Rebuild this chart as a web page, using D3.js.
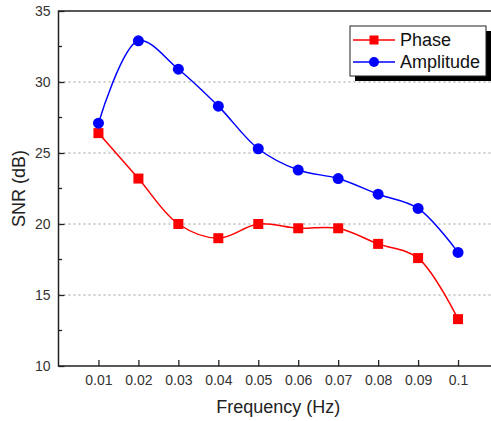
<!DOCTYPE html>
<html>
<head>
<meta charset="utf-8">
<script src="https://cdn.jsdelivr.net/npm/d3@7"></script>
<style>
  body { margin: 0; background: #fff; }
  text { font-family: "Liberation Sans", Arial, sans-serif; }
</style>
</head>
<body>
<div class="container"></div>
<script>
const wd = 491
const ht = 421

// data
const freq = [0.01, 0.02, 0.03, 0.04, 0.05, 0.06, 0.07, 0.08, 0.09, 0.1]
const freqLabels = ["0.01", "0.02", "0.03", "0.04", "0.05", "0.06", "0.07", "0.08", "0.09", "0.1"]
const phase = [26.4, 23.2, 20.0, 19.0, 20.0, 19.7, 19.7, 18.6, 17.6, 13.3]
const amplitude = [27.1, 32.9, 30.9, 28.3, 25.3, 23.8, 23.2, 22.1, 21.1, 18.0]
const yTicks = [10, 15, 20, 25, 30, 35]
const gridTicks = [15, 20, 25, 30]
const minorTicks = [12.5, 17.5, 22.5, 27.5, 32.5]

const pLeft = 58.5, pTop = 11, pBottom = 366, pRight = 498

const svg = d3.select(".container").append("svg")
  .attr("width", wd)
  .attr("height", ht)

const x = d3.scaleLinear().domain([0, 0.11]).range([pLeft, pRight])
const y = d3.scaleLinear().domain([10, 35]).range([pBottom, pTop])

// dotted grid
svg.append("g").selectAll("line")
  .data(gridTicks)
  .enter().append("line")
  .attr("x1", pLeft).attr("x2", pRight)
  .attr("y1", d => y(d)).attr("y2", d => y(d))
  .style("stroke", "#999")
  .style("stroke-width", 1)
  .style("stroke-dasharray", "2,3")

// frame
svg.append("rect")
  .attr("x", pLeft).attr("y", pTop)
  .attr("width", pRight - pLeft).attr("height", pBottom - pTop)
  .attr("fill", "none")
  .style("stroke", "#222")
  .style("stroke-width", 1.5)

// x axis, ticks inside
const xAxis = d3.axisBottom(x)
  .tickValues(freq)
  .tickFormat((d, i) => freqLabels[i])
  .tickSize(-6)
  .tickPadding(9)
const gx = svg.append("g").attr("transform", "translate(0," + pBottom + ")").call(xAxis)
gx.select(".domain").remove()
gx.selectAll("line").style("stroke", "#222").style("stroke-width", 1.3)
gx.selectAll("text").style("font-size", "14px").style("fill", "#333")
  .style("font-family", "Liberation Sans, Arial, sans-serif")

// y axis, ticks inside
const yAxis = d3.axisLeft(y)
  .tickValues(yTicks)
  .tickSize(-6)
  .tickPadding(8)
const gy = svg.append("g").attr("transform", "translate(" + pLeft + ",0)").call(yAxis)
gy.select(".domain").remove()
gy.selectAll("line").style("stroke", "#222").style("stroke-width", 1.3)
gy.selectAll("text").style("font-size", "14px").style("fill", "#333")
  .style("font-family", "Liberation Sans, Arial, sans-serif")

svg.append("g").selectAll("line")
  .data(minorTicks)
  .enter().append("line")
  .attr("x1", pLeft).attr("x2", pLeft + 3.5)
  .attr("y1", d => y(d)).attr("y2", d => y(d))
  .style("stroke", "#222")
  .style("stroke-width", 1.3)

// axis titles
svg.append("text")
  .attr("x", (pLeft + pRight) / 2)
  .attr("y", 413)
  .attr("text-anchor", "middle")
  .style("font-size", "18px")
  .style("fill", "#222")
  .text("Frequency (Hz)")

svg.append("text")
  .attr("transform", "translate(25," + (pTop + pBottom) / 2 + ") rotate(-90)")
  .attr("text-anchor", "middle")
  .style("font-size", "18px")
  .style("fill", "#222")
  .text("SNR (dB)")

// lines
const lineFunc = d3.line()
  .x(d => x(d[0]))
  .y(d => y(d[1]))
  .curve(d3.curveCatmullRom.alpha(0.5))

const phaseData = freq.map((f, i) => [f, phase[i]])
const ampData = freq.map((f, i) => [f, amplitude[i]])

svg.append("path")
  .attr("d", lineFunc(phaseData))
  .attr("fill", "none")
  .style("stroke", "#ff0000")
  .style("stroke-width", 1.5)

svg.append("path")
  .attr("d", lineFunc(ampData))
  .attr("fill", "none")
  .style("stroke", "#0000ff")
  .style("stroke-width", 1.5)

const sq = 10
svg.append("g").selectAll("rect")
  .data(phaseData)
  .enter().append("rect")
  .attr("x", d => x(d[0]) - sq / 2)
  .attr("y", d => y(d[1]) - sq / 2)
  .attr("width", sq).attr("height", sq)
  .attr("fill", "#ff0000")

svg.append("g").selectAll("circle")
  .data(ampData)
  .enter().append("circle")
  .attr("cx", d => x(d[0]))
  .attr("cy", d => y(d[1]))
  .attr("r", 5.5)
  .attr("fill", "#0000ff")

// legend with drop shadow
const lg = svg.append("g")
lg.append("rect")
  .attr("x", 355).attr("y", 31)
  .attr("width", 136).attr("height", 50)
  .attr("fill", "#000")
lg.append("rect")
  .attr("x", 350).attr("y", 26)
  .attr("width", 136).attr("height", 50)
  .attr("fill", "#fff")
  .style("stroke", "#222")
  .style("stroke-width", 1)

const legendItems = [
  {name: "Phase", col: "#ff0000", shape: "square", ly: 40},
  {name: "Amplitude", col: "#0000ff", shape: "circle", ly: 62}
]
legendItems.forEach(item => {
  lg.append("line")
    .attr("x1", 353).attr("x2", 395)
    .attr("y1", item.ly).attr("y2", item.ly)
    .style("stroke", item.col)
    .style("stroke-width", 1.5)
  if (item.shape == "square") {
    lg.append("rect")
      .attr("x", 374 - 4.5).attr("y", item.ly - 4.5)
      .attr("width", 9).attr("height", 9)
      .attr("fill", item.col)
  } else {
    lg.append("circle")
      .attr("cx", 374).attr("cy", item.ly)
      .attr("r", 5)
      .attr("fill", item.col)
  }
  lg.append("text")
    .attr("x", 400)
    .attr("y", item.ly + 6)
    .style("font-size", "18px")
    .style("fill", "#111")
    .text(item.name)
})
</script>
</body>
</html>
